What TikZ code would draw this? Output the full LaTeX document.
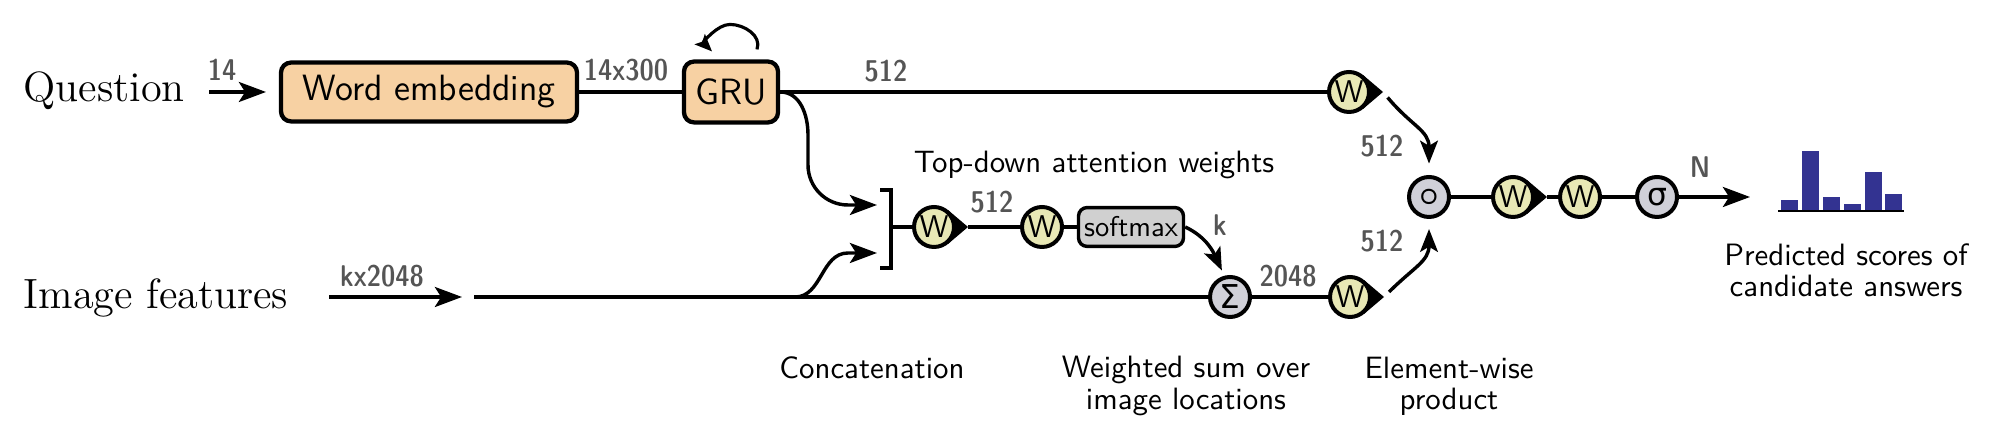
\documentclass[tikz,border=0pt]{standalone}
\usepackage{fontspec}
\newfontfamily\djv{DejaVu Sans}
\usetikzlibrary{arrows.meta,calc}
\definecolor{peach}{HTML}{F7D1A3}
\definecolor{wyel}{HTML}{E8E8B5}
\definecolor{ngrey}{HTML}{D0D0D8}
\definecolor{smgrey}{HTML}{D0D0D0}
\definecolor{lblgrey}{HTML}{555555}
\definecolor{barblue}{HTML}{333391}
\pgfdeclarelayer{bg}
\pgfsetlayers{bg,main}
\newcommand{\ptrfill}[1]{\fill ($(#1.center)+(34,0)$) -- ($(#1.center)+(14.2,16.8)$) -- ($(#1.center)+(14.2,-16.8)$) -- cycle;}
\begin{document}
\begin{tikzpicture}[x=0.35pt,y=0.35pt,
  peachbox/.style={draw, line width=1.5pt, rounded corners=3.5pt, fill=peach, inner sep=0pt, font=\fontsize{12.8}{14}\sffamily},
  wn/.style={circle, draw, line width=1.4pt, fill=wyel, minimum size=14pt, inner sep=0pt, font=\fontsize{11}{12}\sffamily},
  gn/.style={wn, fill=ngrey},
  lbl/.style={text=lblgrey, inner sep=0pt, font=\fontsize{10.5}{12}\fontseries{sbc}\sffamily},
  captxt/.style={inner sep=0pt, align=center, font=\fontsize{10.8}{10.9}\sffamily},
  bigtxt/.style={inner sep=0pt, font=\fontsize{14.8}{16}\rmfamily},
  conn/.style={line width=1.2pt},
  arr/.style={conn, -{Stealth[length=9.5pt,width=7pt,inset=2.2pt]}},
  sarr/.style={conn, -{Stealth[length=8pt,width=6.2pt,inset=1.8pt]}},
]
\useasboundingbox (0,0) rectangle (1996,-442);

% texts
\node[bigtxt, anchor=base west] (q) at (23,-102) {Question};
\node[bigtxt, anchor=base west] (img) at (23,-309) {Image features};

% boxes
\node[peachbox, minimum width=103.6pt, minimum height=20.6pt] (we) at (429,-92) {Word embedding};
\node[peachbox, minimum width=32.9pt, minimum height=21.3pt] (gru) at (731,-92) {GRU};
\node[draw, line width=1.2pt, rounded corners=3pt, fill=smgrey, minimum width=36.75pt, minimum height=13.6pt, inner sep=0pt, font=\fontsize{10}{11}\sffamily] (sm) at (1131,-227) {softmax};

% circle nodes
\node[wn] (wq) at (1349,-92) {W};
\node[wn] (w1) at (934,-227) {W};
\node[wn] (w2) at (1042,-227) {W};
\node[gn, font=\fontsize{11.5}{12}\djv] (S) at (1230,-297) {Σ};
\node[wn] (wi) at (1350,-297) {W};
\node[gn, font=\fontsize{12.5}{12.5}\selectfont\boldmath] (prod) at (1429,-197) {$\circ$};
\node[wn] (w3) at (1513,-197) {W};
\node[wn] (w4) at (1580,-197) {W};
\node[gn, font=\fontsize{11}{11}\djv] (sg) at (1657,-197) {σ};

% pointer tips
\coordinate (wqt) at ($(wq.center)+(34,0)$);
\coordinate (wit) at ($(wi.center)+(34,0)$);
\coordinate (w1t) at ($(w1.center)+(34,0)$);
\coordinate (w3t) at ($(w3.center)+(34,0)$);
\begin{pgfonlayer}{bg}
  \fill[white] (0,0) rectangle (1996,-442);
  \ptrfill{wq}
  \ptrfill{wi}
  \ptrfill{w1}
  \ptrfill{w3}
\end{pgfonlayer}

% labels
\node[lbl] (l14) at (222,-70) {14};
\node[lbl] (l14x) at (626,-70) {14x300};
\node[lbl] (l512a) at (886,-71) {512};
\node[lbl] (l512b) at (992,-202) {512};
\node[lbl] (lk) at (1220,-225) {k};
\node[lbl] (l2048) at (1288,-276) {2048};
\node[lbl] (l512c) at (1382,-146) {512};
\node[lbl] (l512d) at (1382,-241) {512};
\node[lbl] (lN) at (1700,-167) {N};
\node[lbl] (lkx) at (382,-276) {kx2048};

% captions
\node[captxt, anchor=base] (tda) at (1094,-173) {Top-down attention weights};
\node[captxt, anchor=base] (cc) at (872,-379) {Concatenation};
\node[captxt] (ws) at (1186,-386) {Weighted sum over\\image locations};
\node[captxt] (ew) at (1449,-386) {Element-wise\\product};
\node[captxt] (ps) at (1846,-270) {Predicted scores of\\candidate answers};

% coordinates
\coordinate (qa) at (209,-92);
\coordinate (ia) at (329,-297);
\coordinate (is) at (474,-297);
\coordinate (jn) at (795,-297);
\coordinate (ct) at (877,-205);
\coordinate (cb) at (877,-253);
\coordinate (b1) at (880,-190);
\coordinate (b2) at (891,-190);
\coordinate (b3) at (891,-268);
\coordinate (b4) at (880,-268);
\coordinate (bm) at (891,-227);
\coordinate (outc) at (1750,-197);

% question path
\draw[arr, shorten >=4.5pt] (qa) -- (we.west);
\draw[conn] (we.east) -- (gru.west);
\draw[conn] (gru.east) -- (wq.west);
\draw[line width=1.1pt, -{Stealth[length=6pt,width=5pt,inset=1.2pt]}] ($(gru.north)+(26,10)$) to[out=70,in=0] ($(gru.north)+(-1,35)$) to[out=180,in=135] ($(gru.north)+(-19,8)$);

% image path
\draw[arr, shorten >=4.2pt] (ia) -- (is);
\draw[conn] (is) -- (S.west);

% concatenation
\draw[arr] (gru.east) to[out=0,in=90] (808,-135) -- (808,-165) to[out=-90,in=180] (848,-205) -- (ct);
\draw[arr] (jn) to[out=0,in=180] (848,-253) -- (cb);
\draw[line width=1.1pt] (b1) -- (b2) -- (b3) -- (b4);

% attention
\draw[conn] (bm) -- (w1.west);
\draw[conn] (w1t) -- (w2.west);
\draw[conn] (w2.east) -- (sm.west);
\draw[sarr, shorten >=2pt] (sm.east) to[out=-25,in=115] (S.105);
\draw[conn] (S.east) -- (wi.west);

% fusion
\draw[sarr, shorten <=2.5pt, shorten >=4pt] (wqt) to[out=-50,in=90,looseness=1.2] (prod.north);
\draw[sarr, shorten <=2.5pt, shorten >=3.5pt] (wit) to[out=45,in=-90,looseness=1.2] (prod.south);
\draw[conn] (prod.east) -- (w3.west);
\draw[conn] (w3t) -- (w4.west);
\draw[conn] (w4.east) -- (sg.west);
\draw[arr] (sg.east) -- (outc);

% bars
\fill[barblue] (1781,-210) rectangle (1798,-200);
\fill[barblue] (1802,-210) rectangle (1819,-151);
\fill[barblue] (1823,-210) rectangle (1840,-197);
\fill[barblue] (1844,-210) rectangle (1861,-204);
\fill[barblue] (1865,-210) rectangle (1882,-172);
\fill[barblue] (1885,-210) rectangle (1902,-194);
\draw[line width=0.9pt] (1778,-211) -- (1904,-211);
\end{tikzpicture}
\end{document}
